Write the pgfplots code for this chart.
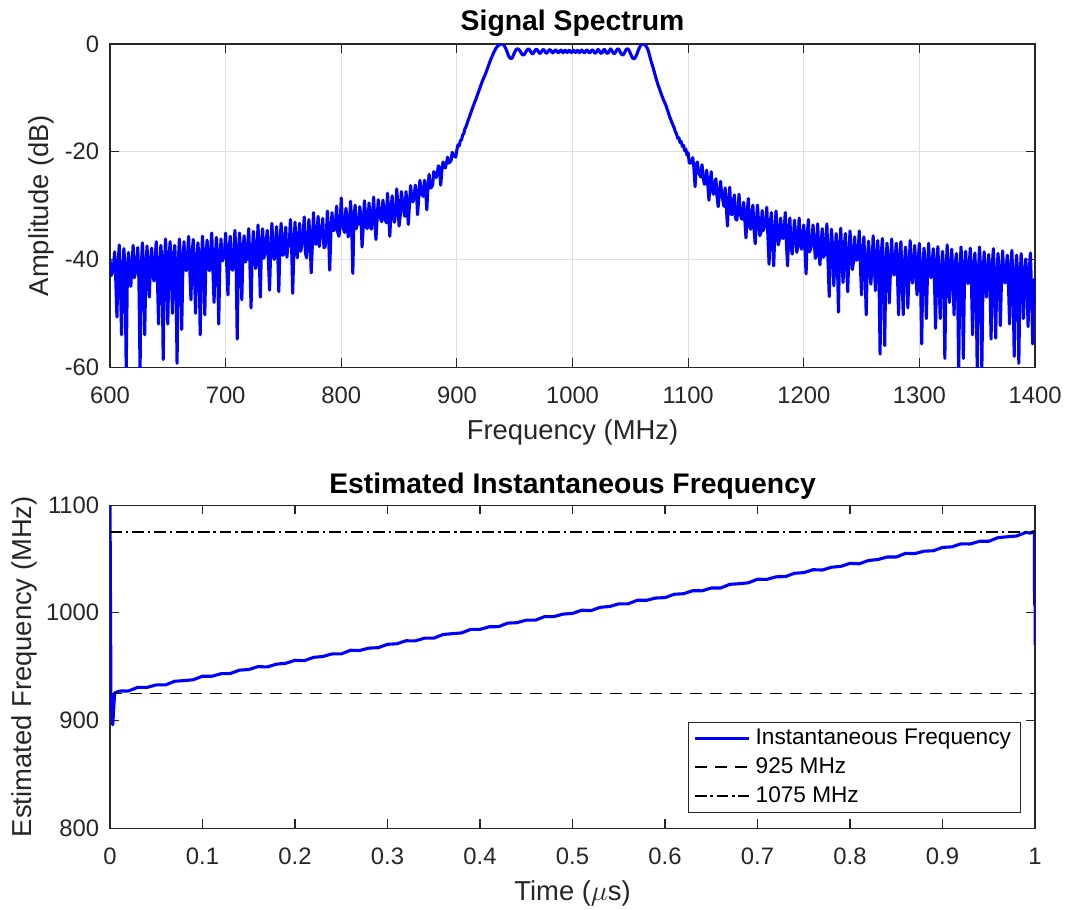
\documentclass[border=0pt]{standalone}
\usepackage{fontspec}
\setmainfont{Liberation Sans}
\usepackage{pgfplots}
\pgfplotsset{compat=1.18}
\definecolor{axgray}{RGB}{38,38,38}
\definecolor{gridgray}{RGB}{223,223,223}
\pgfplotsset{
  matlabaxis/.style={
    scale only axis, width=388.5pt, height=135.66pt,
    axis line style={axgray, line width=0.5pt},
    every tick/.style={axgray, line width=0.5pt},
    major tick length=3.8pt,
    tick align=inside,
    tick label style={font=\fontsize{10}{12}\selectfont, text=axgray},
    xticklabel style={anchor=base, yshift=-15.1pt},
    yticklabel style={anchor=east, xshift=-1pt},
    /pgf/number format/assume math mode=true,
    /pgf/number format/1000 sep={},
    scaled ticks=false,
    label style={font=\fontsize{11.5}{13}\selectfont, text=axgray},
    every axis title shift=0pt,
    title style={font=\bfseries\fontsize{11.9}{14}\selectfont, anchor=base},
  }
}
\begin{document}
\begin{tikzpicture}
\path[use as bounding box] (-46.2pt,-34pt) rectangle (403.6pt,347.8pt);
% ---------------- top: spectrum ----------------
\begin{axis}[matlabaxis, at={(0pt,193.62pt)}, anchor=south west,
  xmin=600, xmax=1400, ymin=-60, ymax=0,
  xtick={600,700,...,1400}, ytick={-60,-40,-20,0},
  grid=major, major grid style={gridgray, line width=0.45pt},
  title={Signal Spectrum}, title style={at={(axis description cs:0.5,1.043)}},
  xlabel={Frequency (MHz)}, xlabel style={at={(axis description cs:0.5,-0.224)}, anchor=base},
  ylabel={Amplitude (dB)}, ylabel style={at={(axis description cs:-0.066,0.5)}, anchor=base},
]
\addplot[blue, line width=1.3pt, line join=round] coordinates {
(600,-40)(601,-43.0)(602,-42.4)(603,-41.4)(604,-38.6)(605,-43.9)(606,-50.7)(607,-40.8)(608,-37.3)(609,-44.2)
(610,-54)(611,-42.2)(612,-38.0)(613,-41.6)(614,-60.5)(615,-43.1)(616,-38.7)(617,-42.5)(618,-45.0)(619,-41.0)
(620,-37.4)(621,-43.4)(622,-42.4)(623,-40.4)(624,-37.8)(625,-43.8)(626,-60.5)(627,-41.8)(628,-36.9)(629,-41.2)
(630,-54)(631,-42.7)(632,-37.5)(633,-42.1)(634,-47)(635,-40.5)(636,-37.9)(637,-43.0)(638,-44.0)(639,-39.9)
(640,-36.7)(641,-43.4)(642,-52)(643,-41.3)(644,-37.4)(645,-40.7)(646,-58.6)(647,-42.2)(648,-36.2)(649,-41.6)
(650,-52)(651,-40.0)(652,-36.7)(653,-42.5)(654,-50)(655,-39.4)(656,-37.4)(657,-42.9)(658,-59.3)(659,-40.8)
(660,-36.2)(661,-40.2)(662,-53)(663,-41.7)(664,-36.7)(665,-41.1)(666,-42.1)(667,-39.6)(668,-35.7)(669,-42.0)
(670,-47.5)(671,-39.0)(672,-36.3)(673,-42.4)(674,-50)(675,-40.4)(676,-36.9)(677,-39.8)(678,-54)(679,-41.3)
(680,-35.7)(681,-40.7)(682,-50.3)(683,-39.2)(684,-36.4)(685,-41.6)(686,-42.1)(687,-38.6)(688,-35.1)(689,-42.0)
(690,-48)(691,-40.0)(692,-35.9)(693,-39.4)(694,-52)(695,-40.9)(696,-36.2)(697,-40.3)(698,-39.9)(699,-38.8)
(700,-35.1)(701,-41.2)(702,-46.6)(703,-38.1)(704,-35.7)(705,-41.6)(706,-42.0)(707,-39.5)(708,-34.6)(709,-38.9)
(710,-54.8)(711,-40.3)(712,-35.1)(713,-39.7)(714,-47.5)(715,-38.1)(716,-35.6)(717,-40.5)(718,-40.0)(719,-37.4)
(720,-34.3)(721,-40.9)(722,-49)(723,-38.8)(724,-34.8)(725,-38.2)(726,-41.7)(727,-39.6)(728,-33.6)(729,-39.0)
(730,-47)(731,-37.4)(732,-34.3)(733,-39.8)(734,-38.8)(735,-36.8)(736,-34.6)(737,-40.2)(738,-45.7)(739,-38.1)
(740,-33.3)(741,-37.5)(742,-40.0)(743,-39.0)(744,-33.9)(745,-38.4)(746,-46)(747,-36.8)(748,-33.3)(749,-39.2)
(750,-39.2)(751,-36.1)(752,-34.0)(753,-39.6)(754,-36.5)(755,-37.5)(756,-32.6)(757,-36.9)(758,-46.3)(759,-38.3)
(760,-33.1)(761,-37.7)(762,-39.7)(763,-36.1)(764,-33.3)(765,-38.5)(766,-36.9)(767,-35.4)(768,-32.1)(769,-38.8)
(770,-39.7)(771,-36.6)(772,-32.6)(773,-36.0)(774,-42.5)(775,-37.4)(776,-31.3)(777,-36.8)(778,-37.2)(779,-35.2)
(780,-32.0)(781,-37.6)(782,-35.5)(783,-34.4)(784,-32.4)(785,-37.8)(786,-37.7)(787,-35.7)(788,-31.0)(789,-35.1)
(790,-42)(791,-35.2)(792,-31.3)(793,-34.6)(794,-34.6)(795,-33.2)(796,-30.1)(797,-35.0)(798,-35.7)(799,-33.6)
(800,-28.6)(801,-33.1)(802,-34.4)(803,-35.0)(804,-30.5)(805,-32.1)(806,-35.8)(807,-34.9)(808,-29.2)(809,-33.2)
(810,-42.6)(811,-32.3)(812,-29.9)(813,-34.3)(814,-33.0)(815,-33.4)(816,-30.2)(817,-32.1)(818,-37.7)(819,-34.1)
(820,-29.1)(821,-31.6)(822,-34.2)(823,-34.2)(824,-29.5)(825,-32.5)(826,-34.4)(827,-32.0)(828,-28.4)(829,-33.0)
(830,-36.3)(831,-32.5)(832,-28.9)(833,-31.2)(834,-32.4)(835,-33.0)(836,-29.0)(837,-30.5)(838,-32.6)(839,-33.2)
(840,-27.7)(841,-31.5)(842,-35.7)(843,-30.9)(844,-28.2)(845,-31.9)(846,-33.1)(847,-31.4)(848,-26.9)(849,-30.0)
(850,-33.8)(851,-31.9)(852,-27.4)(853,-29.3)(854,-31.0)(855,-32.0)(856,-27.4)(857,-30.2)(858,-33.5)(859,-29.7)
(860,-26.3)(861,-28.9)(862,-29.3)(863,-28.45)(864,-26.2)(865,-27.5)(866,-31.7)(867,-28.55)(868,-25.3)(869,-26.85)
(870,-28.0)(871,-28.3)(872,-25.3)(873,-27.0)(874,-30.8)(875,-26.35)(876,-24.2)(877,-26.75)(878,-26.6)(879,-26.15)
(880,-23.7)(881,-24.0)(882,-24.8)(883,-24.2)(884,-22.6)(885,-23.1)(886,-26.2)(887,-23.55)(888,-21.9)(889,-22.65)
(890,-23.0)(891,-22.1)(892,-21.0)(893,-22.1)(894,-21.9)(895,-21.6)(896,-20.1)(897,-20.8)(898,-20.8)(899,-21.0)
(900,-19.6)(901,-18.7)(902,-18.9)(903,-17.9)(904,-17.8)(905,-16.9)(906,-16.6)(907,-15.7)(908,-15.3)(909,-14.6)
(910,-14.0)(911,-13.4)(912,-12.8)(913,-12.2)(914,-11.6)(915,-11.0)(916,-10.5)(917,-9.9)(918,-9.3)(919,-8.7)
(920,-8.1)(921,-7.5)(922,-6.9)(923,-6.4)(924,-5.9)(925,-5.4)(926,-4.8)(927,-4.2)(928,-3.6)(929,-3.0)
(930,-2.5)(931,-2.0)(932,-1.5)(933,-1.1)(934,-0.7)(935,-0.45)(936,-0.25)(937,-0.1)(938,-0.02)(939,0)
(940,-0.05)(941,-0.3)(942,-0.7)(943,-1.2)(944,-1.8)(945,-2.3)(946,-2.6)(947,-2.7)(948,-2.5)(949,-2.0)
(950,-1.5)(951,-1.1)(952,-0.9)(953,-0.9)(954,-1.1)(955,-1.4)(956,-1.8)(957,-2.0)(958,-2.0)(959,-1.7)
(960,-1.3)(961,-1.0)(962,-0.9)(963,-1.1)(964,-1.5)(965,-1.8)(966,-1.75)(967,-1.4)(968,-1.05)(969,-0.95)
(970,-1.2)(971,-1.6)(972,-1.75)(973,-1.5)(974,-1.1)(975,-1.0)(976,-1.3)(977,-1.65)(978,-1.65)(979,-1.3)
(980,-1.05)(981,-1.1)(982,-1.45)(983,-1.65)(984,-1.4)(985,-1.1)(986,-1.15)(987,-1.5)(988,-1.6)(989,-1.3)
(990,-1.1)(991,-1.45)(992,-1.6)(993,-1.2)(994,-1.15)(995,-1.55)(996,-1.5)(997,-1.15)(998,-1.3)(999,-1.6)
(1000,-1.35)(1001,-1.15)(1002,-1.5)(1003,-1.55)(1004,-1.15)(1005,-1.25)(1006,-1.6)(1007,-1.4)(1008,-1.1)(1009,-1.35)
(1010,-1.6)(1011,-1.5)(1012,-1.1)(1013,-1.15)(1014,-1.5)(1015,-1.65)(1016,-1.35)(1017,-1.05)(1018,-1.2)(1019,-1.6)
(1020,-1.7)(1021,-1.35)(1022,-1.0)(1023,-1.15)(1024,-1.6)(1025,-1.75)(1026,-1.45)(1027,-1.0)(1028,-1.05)(1029,-1.5)
(1030,-1.75)(1031,-1.6)(1032,-1.15)(1033,-0.9)(1034,-1.2)(1035,-1.6)(1036,-1.8)(1037,-1.6)(1038,-1.2)(1039,-0.9)
(1040,-0.95)(1041,-1.35)(1042,-1.8)(1043,-2.0)(1044,-1.95)(1045,-1.6)(1046,-1.15)(1047,-0.9)(1048,-0.9)(1049,-1.2)
(1050,-1.7)(1051,-2.2)(1052,-2.6)(1053,-2.7)(1054,-2.6)(1055,-2.2)(1056,-1.7)(1057,-1.1)(1058,-0.6)(1059,-0.2)
(1060,-0.02)(1061,0)(1062,-0.05)(1063,-0.2)(1064,-0.5)(1065,-0.9)(1066,-1.6)(1067,-2.4)(1068,-3.2)(1069,-3.9)
(1070,-4.6)(1071,-5.4)(1072,-6.2)(1073,-6.9)(1074,-7.6)(1075,-8.2)(1076,-8.8)(1077,-9.4)(1078,-10.0)(1079,-10.5)
(1080,-11.0)(1081,-11.5)(1082,-12.2)(1083,-12.8)(1084,-13.5)(1085,-14.0)(1086,-14.6)(1087,-15.1)(1088,-15.6)(1089,-16.3)
(1090,-16.7)(1091,-17.5)(1092,-17.4)(1093,-18.3)(1094,-18.1)(1095,-19.0)(1096,-18.8)(1097,-19.8)(1098,-19.5)(1099,-20.6)
(1100,-20.2)(1101,-22.1)(1102,-22.1)(1103,-21.95)(1104,-21.1)(1105,-23.0)(1106,-26.5)(1107,-22.4)(1108,-21.9)(1109,-23.75)
(1110,-24.3)(1111,-24.7)(1112,-22.4)(1113,-24.8)(1114,-26.0)(1115,-25.95)(1116,-23.4)(1117,-26.0)(1118,-29)(1119,-25.5)
(1120,-23.7)(1121,-27.3)(1122,-27.9)(1123,-26.0)(1124,-25.0)(1125,-28.35)(1126,-30.2)(1127,-27.65)(1128,-25.5)(1129,-27.8)
(1130,-29.0)(1131,-30.15)(1132,-26.7)(1133,-30.05)(1134,-33.8)(1135,-29.25)(1136,-26.6)(1137,-31.45)(1138,-31.7)(1139,-29.45)
(1140,-28.0)(1141,-32.4)(1142,-32.7)(1143,-31.2)(1144,-27.9)(1145,-31.15)(1146,-32.4)(1147,-32.55)(1148,-29.4)(1149,-32.45)
(1150,-36)(1151,-31.6)(1152,-28.7)(1153,-33.7)(1154,-34.4)(1155,-31.6)(1156,-29.9)(1157,-34.45)(1158,-37.1)(1159,-33.15)
(1160,-29.9)(1161,-33.45)(1162,-35.6)(1163,-34.95)(1164,-30.9)(1165,-34.65)(1166,-33.9)(1167,-33.5)(1168,-30.3)(1169,-35.85)
(1170,-40.9)(1171,-33.35)(1172,-31.3)(1173,-36.55)(1174,-41.2)(1175,-35.0)(1176,-31.0)(1177,-34.65)(1178,-37.3)(1179,-36.15)
(1180,-32.3)(1181,-35.85)(1182,-36.1)(1183,-34.65)(1184,-31.3)(1185,-37.0)(1186,-41.2)(1187,-34.45)(1188,-32.3)(1189,-37.65)
(1190,-39.0)(1191,-36.05)(1192,-32.7)(1193,-35.7)(1194,-38.7)(1195,-37.15)(1196,-32.3)(1197,-36.8)(1198,-38.1)(1199,-35.65)
(1200,-33.6)(1201,-37.95)(1202,-42.7)(1203,-35.4)(1204,-32.6)(1205,-38.6)(1206,-38.0)(1207,-37.0)(1208,-33.6)(1209,-36.6)
(1210,-39.8)(1211,-38.8)(1212,-33.4)(1213,-38.4)(1214,-41.0)(1215,-37.0)(1216,-34.3)(1217,-39.6)(1218,-39.2)(1219,-36.75)
(1220,-33.4)(1221,-40.35)(1222,-46.9)(1223,-38.45)(1224,-34.4)(1225,-38.05)(1226,-44.9)(1227,-39.65)(1228,-35.2)(1229,-39.25)
(1230,-49.8)(1231,-37.85)(1232,-34.2)(1233,-40.45)(1234,-44.3)(1235,-37.55)(1236,-35.2)(1237,-41.15)(1238,-46)(1239,-39.25)
(1240,-34.7)(1241,-38.85)(1242,-41.9)(1243,-40.45)(1244,-35.8)(1245,-40.1)(1246,-40.1)(1247,-38.7)(1248,-34.7)(1249,-41.3)
(1250,-46.6)(1251,-38.4)(1252,-35.8)(1253,-42.0)(1254,-50.3)(1255,-40.15)(1256,-36.6)(1257,-39.75)(1258,-44.6)(1259,-41.35)
(1260,-35.6)(1261,-40.95)(1262,-45.8)(1263,-39.5)(1264,-36.5)(1265,-42.05)(1266,-57.6)(1267,-39.1)(1268,-36.1)(1269,-42.65)
(1270,-56)(1271,-40.75)(1272,-37.0)(1273,-40.3)(1274,-48.1)(1275,-41.85)(1276,-36.2)(1277,-41.4)(1278,-42.9)(1279,-39.95)
(1280,-37.0)(1281,-42.55)(1282,-50.3)(1283,-39.6)(1284,-36.7)(1285,-43.15)(1286,-50.3)(1287,-41.2)(1288,-37.7)(1289,-40.75)
(1290,-49)(1291,-42.35)(1292,-36.5)(1293,-41.9)(1294,-44.4)(1295,-40.45)(1296,-37.4)(1297,-43.0)(1298,-46.6)(1299,-40.05)
(1300,-37.0)(1301,-43.65)(1302,-55.7)(1303,-41.7)(1304,-37.9)(1305,-41.25)(1306,-51)(1307,-42.8)(1308,-37.0)(1309,-42.35)
(1310,-43.4)(1311,-40.95)(1312,-38.0)(1313,-43.5)(1314,-52.8)(1315,-40.55)(1316,-37.6)(1317,-44.1)(1318,-51)(1319,-42.15)
(1320,-38.5)(1321,-41.7)(1322,-58.4)(1323,-43.25)(1324,-37.3)(1325,-42.8)(1326,-48)(1327,-41.3)(1328,-38.1)(1329,-43.85)
(1330,-50.3)(1331,-40.9)(1332,-38.9)(1333,-44.4)(1334,-60.5)(1335,-42.45)(1336,-37.7)(1337,-41.95)(1338,-58.4)(1339,-43.5)
(1340,-38.5)(1341,-43.0)(1342,-44.5)(1343,-41.55)(1344,-37.9)(1345,-44.05)(1346,-54)(1347,-41.1)(1348,-38.8)(1349,-44.6)
(1350,-60.5)(1351,-42.6)(1352,-37.7)(1353,-42.15)(1354,-60.5)(1355,-43.65)(1356,-38.6)(1357,-43.2)(1358,-47)(1359,-41.7)
(1360,-39.1)(1361,-44.2)(1362,-54.8)(1363,-41.25)(1364,-38.0)(1365,-44.8)(1366,-54.6)(1367,-42.8)(1368,-38.9)(1369,-42.35)
(1370,-52.3)(1371,-43.85)(1372,-38.4)(1373,-43.4)(1374,-44.4)(1375,-41.95)(1376,-39.2)(1377,-44.45)(1378,-52)(1379,-41.5)
(1380,-38.3)(1381,-45.05)(1382,-58)(1383,-43.1)(1384,-39.2)(1385,-42.7)(1386,-59.3)(1387,-44.3)(1388,-38.9)(1389,-43.85)
(1390,-51)(1391,-42.45)(1392,-39.9)(1393,-45.0)(1394,-52.5)(1395,-42.1)(1396,-38.8)(1397,-45.7)(1398,-55.7)(1399,-43.75)
(1400,-45)
};
\end{axis}
% ---------------- bottom: instantaneous frequency ----------------
\begin{axis}[matlabaxis, at={(0pt,0pt)}, anchor=south west,
  xmin=0, xmax=1, ymin=800, ymax=1100,
  xtick={0,0.1,...,1}, ytick={800,900,1000,1100},
  xticklabels={0,0.1,0.2,0.3,0.4,0.5,0.6,0.7,0.8,0.9,1},
  title={Estimated Instantaneous Frequency}, title style={at={(axis description cs:0.5,1.037)}},
  xlabel={Time ($\mu$s)}, xlabel style={at={(axis description cs:0.5,-0.225)}, anchor=base},
  ylabel={Estimated Frequency (MHz)}, ylabel style={at={(axis description cs:-0.0846,0.5)}, anchor=base},
  legend style={at={(axis description cs:0.9849,0.0464)}, anchor=south east,
    font=\fontsize{9.5}{11}\selectfont, draw=axgray, line width=0.5pt,
    inner xsep=2pt, inner ysep=0.8pt, row sep=0pt, text=black},
  legend cell align=left,
  legend image code/.code={\draw[#1] (0pt,0pt) -- (23pt,0pt);},
]
\addplot[blue, line width=1.3pt, line join=round] coordinates {
(0,1105)(0.001,926)(0.003,896)(0.005,925.5)
(0.01,927.3)(0.02,927.4)(0.03,930.7)(0.04,930.7)(0.05,933.0)(0.06,933.0)(0.07,936.4)(0.08,937.0)(0.09,937.8)(0.10,941.1)
(0.11,941.0)(0.12,943.4)(0.13,943.6)(0.14,946.7)(0.15,947.3)(0.16,950.0)(0.17,949.7)(0.18,952.3)(0.19,953.1)(0.20,955.9)
(0.21,955.5)(0.22,958.6)(0.23,959.4)(0.24,961.8)(0.25,961.8)(0.26,965.2)(0.27,965.0)(0.28,967.2)(0.29,967.6)(0.30,970.7)
(0.31,971.2)(0.32,974.0)(0.33,973.9)(0.34,976.4)(0.35,976.4)(0.36,979.8)(0.37,980.6)(0.38,981.3)(0.39,984.6)(0.40,984.6)
(0.41,987.0)(0.42,987.1)(0.43,990.4)(0.44,990.8)(0.45,993.2)(0.46,993.2)(0.47,996.5)(0.48,996.5)(0.49,998.8)(0.50,999.4)
(0.51,1002.4)(0.52,1002.0)(0.53,1005.1)(0.54,1005.8)(0.55,1008.3)(0.56,1008.3)(0.57,1011.6)(0.58,1011.6)(0.59,1013.7)(0.60,1014.1)
(0.61,1017.2)(0.62,1017.7)(0.63,1020.5)(0.64,1020.4)(0.65,1023.0)(0.66,1023.0)(0.67,1026.4)(0.68,1027.0)(0.69,1027.8)(0.70,1031.2)
(0.71,1031.0)(0.72,1033.4)(0.73,1033.6)(0.74,1036.7)(0.75,1037.3)(0.76,1040.0)(0.77,1039.7)(0.78,1042.3)(0.79,1043.1)(0.80,1045.9)
(0.81,1045.5)(0.82,1048.6)(0.83,1049.4)(0.84,1051.8)(0.85,1051.8)(0.86,1055.2)(0.87,1055.0)(0.88,1057.2)(0.89,1057.6)(0.90,1060.7)
(0.91,1061.2)(0.92,1064.0)(0.93,1063.9)(0.94,1066.4)(0.95,1066.4)(0.96,1069.8)(0.97,1070.6)(0.98,1071.3)(0.99,1074.6)
(0.995,1074.0)(0.998,1075.3)(0.9992,1075)(0.9995,1009)(1.0,1006)(1.0,970)
};
\addlegendentry{Instantaneous Frequency}
\addplot[black, line width=0.8pt, dash pattern=on 5pt off 3.4pt] coordinates {(0,925)(1,925)};
\addlegendentry{925 MHz}
\addplot[black, line width=0.8pt, dash pattern=on 5pt off 1.6pt on 1pt off 1.6pt] coordinates {(0,1075)(1,1075)};
\addlegendentry{1075 MHz}
\end{axis}
\end{tikzpicture}
\end{document}
